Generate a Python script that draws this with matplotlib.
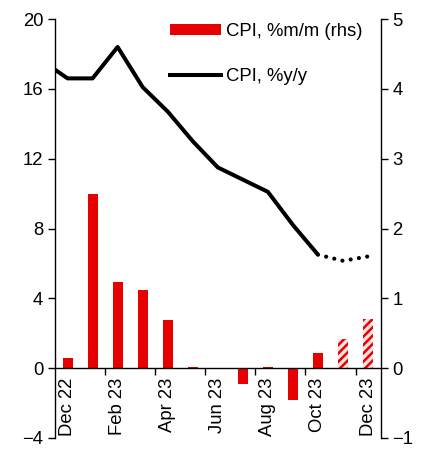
import matplotlib
matplotlib.use("Agg")
import matplotlib.pyplot as plt
from matplotlib.patches import Patch
from matplotlib.lines import Line2D

plt.rcParams["font.family"] = ["Liberation Sans", "DejaVu Sans"]
plt.rcParams["hatch.linewidth"] = 1.8

# data
months = ["Dec 22", "Jan 23", "Feb 23", "Mar 23", "Apr 23", "May 23", "Jun 23",
          "Jul 23", "Aug 23", "Sep 23", "Oct 23", "Nov 23", "Dec 23"]
mm_actual = [0.14, 2.5, 1.24, 1.12, 0.69, 0.01, 0.005, -0.22, 0.01, -0.45, 0.21]
mm_forecast = [0.42, 0.7]
yy_months = ["Nov 22"] + months[:11]
yy_actual = [17.6, 16.6, 16.6, 18.4, 16.1, 14.7, 13.0, 11.5, 10.8, 10.1, 8.2, 6.5]
yy_fc_months = ["Oct 23", "Nov 23", "Dec 23"]
yy_forecast = [6.5, 6.15, 6.4]
left_ticks = [-4, 0, 4, 8, 12, 16, 20]
right_ticks = [-1, 0, 1, 2, 3, 4, 5]

red = "#E60000"
pos = {m: i for i, m in enumerate(months)}
pos["Nov 22"] = -1

fig = plt.figure(figsize=(4.33, 4.5), dpi=100)
ax = fig.add_axes([0.127, 0.0267, 0.752, 0.931])
ax2 = ax.twinx()

# bars (rhs)
ax2.bar([pos[m] for m in months[:11]], mm_actual, width=0.4, color=red, zorder=2)
ax2.bar([pos[m] for m in months[11:]], mm_forecast, width=0.4, facecolor="#FFE0E0",
        edgecolor=red, hatch="////", linewidth=0, zorder=2)

# line (lhs)
ax.plot([pos[m] for m in yy_months], yy_actual, color="black", lw=2.9,
        solid_capstyle="butt", zorder=3)
ax.plot([pos[m] for m in yy_fc_months], yy_forecast, color="black", lw=3.0,
        linestyle=(0, (0.01, 2.0)), dash_capstyle="round", zorder=3)

ax.set_xlim(-0.5, 12.5)
ax.set_ylim(-4, 20)
ax2.set_ylim(-1, 5)
ax.set_yticks(left_ticks)
ax2.set_yticks(right_ticks)
ax.tick_params(axis="y", labelsize=13.3, length=5, direction="out", width=1)
ax2.tick_params(axis="y", labelsize=13.3, length=5, direction="out", width=1)

ax.spines["top"].set_visible(False)
ax2.spines["top"].set_visible(False)
ax2.spines["bottom"].set_visible(False)
ax.spines["bottom"].set_position(("data", 0))
for s in ["left", "bottom"]:
    ax.spines[s].set_linewidth(1)
ax2.spines["right"].set_linewidth(1)
ax2.spines["left"].set_visible(False)
ax.spines["right"].set_visible(False)

ax.set_xticks(range(0, 13, 2))
ax.set_xticklabels(months[::2], rotation=90, fontsize=13.3)
ax.set_xticks([1.5, 3.5, 5.5, 7.5, 9.5, 11.5], minor=True)
ax.tick_params(axis="x", which="major", length=0, pad=7)
ax.tick_params(axis="x", which="minor", length=5, direction="out", width=1)
ax.set_zorder(ax2.get_zorder() + 1)
ax.patch.set_visible(False)

handles = [Patch(facecolor=red, edgecolor="none"),
           Line2D([0], [0], color="black", lw=2.9)]
ax.legend(handles, ["CPI, %m/m (rhs)", "CPI, %y/y"], loc="upper left",
          bbox_to_anchor=(170 / 433, 1 - 23 / 450), bbox_transform=fig.transFigure,
          frameon=False, fontsize=13.3, handlelength=2.75, handleheight=0.5,
          handletextpad=0.3, labelspacing=1.5, borderpad=0, borderaxespad=0)

fig.savefig("out.png", dpi=100)
